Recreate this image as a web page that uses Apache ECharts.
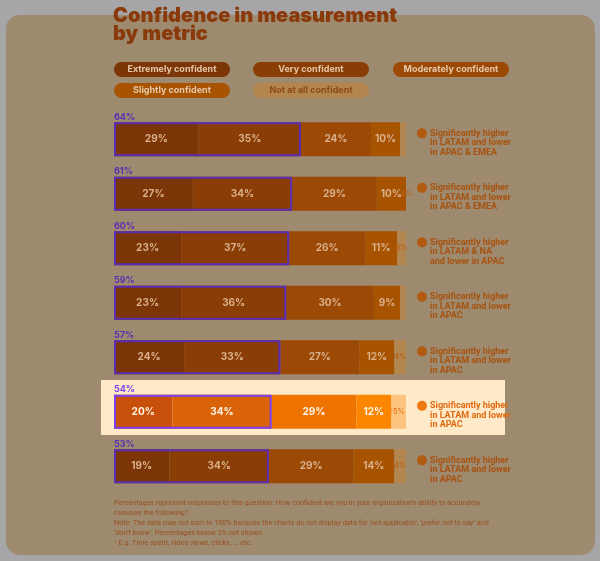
<!DOCTYPE html>
<html>
<head>
<meta charset="utf-8">
<script src="https://cdn.jsdelivr.net/npm/echarts@6/dist/echarts.min.js"></script>
<style>
html,body{margin:0;padding:0;background:#a6a6a8;}
#chart{width:600px;height:561px;}
</style>
</head>
<body>
<div id="chart"></div>
<script>
// ---- data ----
const categories = ['Sales','Brand awareness','Engagement\u00b9','Viewability','Customer lifetime value','Full-funnel media ROI','Unduplicated reach and frequency'];
const seriesNames = ['Extremely confident','Very confident','Moderately confident','Slightly confident','Not at all confident'];
const extremely  = [29,27,23,23,24,20,19];
const very       = [35,34,37,36,33,34,34];
const moderately = [24,29,26,30,27,29,29];
const slightly   = [10,10,11, 9,12,12,14];
const notAtAll   = [ 2, 3, 3, 2, 4, 5, 4];
const top2       = [64,61,60,59,57,54,53];
const notes = [
  ['Significantly higher','in LATAM and lower','in APAC & EMEA'],
  ['Significantly higher','in LATAM and lower','in APAC & EMEA'],
  ['Significantly higher','in LATAM & NA','and lower in APAC'],
  ['Significantly higher','in LATAM and lower','in APAC'],
  ['Significantly higher','in LATAM and lower','in APAC'],
  ['Significantly higher','in LATAM and lower','in APAC'],
  ['Significantly higher','in LATAM and lower','in APAC']
];
const highlightIndex = 5;
const footnote = [
  'Percentages represent responses to this question: How confident are you in your organization\u2019s ability to accurately',
  'measure the following?',
  'Note: The data may not sum to 100% because the charts do not display data for \u2018not applicable\u2019, \u2018prefer not to say\u2019 and',
  '\u2018don\u2019t know\u2019. Percentages below 3% not shown.',
  '\u00b9 E.g. Time spent, video views, clicks, ... etc.'
];

// ---- styles ----
const dimColors    = ['#7b3506','#8a3e05','#9b4904','#a75300','#b3864f'];
const brightColors = ['#c9500a','#da630a','#ee7300','#fd8600','#fcc47e'];
const values = [extremely, very, moderately, slightly, notAtAll];
const FONT = 'Inter, "Noto Sans", sans-serif';
const NFONT = 'Roboto, "Noto Sans", sans-serif';
const GL = 114, GW = 292, GT = 112, GH = 381.5;

const chart = echarts.init(document.getElementById('chart'));

const barSeries = values.map((arr, s) => ({
  name: seriesNames[s],
  type: 'bar',
  stack: 'total',
  barWidth: 34,
  barGap: '-100%',
  z: 2,
  data: arr.map((v, i) => {
    const hi = i === highlightIndex;
    const small = s === 4;
    return {
      value: v,
      itemStyle: { color: hi ? brightColors[s] : dimColors[s] },
      label: {
        show: v >= 3,
        color: small ? (hi ? '#e8801c' : '#b8641c') : (hi ? '#fff4e6' : '#d9b18c'),
        fontSize: small ? 7 : 10,
        fontWeight: 'bold'
      }
    };
  }),
  label: {
    show: true,
    position: 'inside',
    fontFamily: FONT,
    formatter: p => p.value + '%'
  }
}));

const outlineSeries = {
  name: 'top2',
  type: 'bar',
  barWidth: 34,
  barGap: '-100%',
  z: 5,
  data: top2.map((v, i) => {
    const hi = i === highlightIndex;
    return {
      value: v,
      itemStyle: { color: 'rgba(0,0,0,0)', borderColor: hi ? '#7b3ff0' : '#5a2db4', borderWidth: 2 },
      label: { color: hi ? '#7b3ff0' : '#5a2db4' }
    };
  }),
  label: {
    show: true,
    position: [0, -5],
    align: 'left',
    verticalAlign: 'middle',
    fontFamily: FONT,
    fontSize: 9,
    fontWeight: 'bold',
    formatter: p => p.value + '%'
  },
  emphasis: { disabled: true }
};

const pillPos = [[114,62],[253,62],[393,62],[114,83],[253,83]];
const pills = seriesNames.map((n, s) => ({
  type: 'group',
  x: pillPos[s][0], y: pillPos[s][1],
  children: [
    { type: 'rect', shape: { x: 0, y: 0, width: 116, height: 15, r: 7.5 }, style: { fill: dimColors[s] } },
    { type: 'text', x: 58, y: 7.5, style: { text: n, fill: s === 4 ? '#8c4a14' : '#e6c8aa', font: 'bold 9px ' + FONT, align: 'center', verticalAlign: 'middle' } }
  ]
}));

chart.setOption({
  backgroundColor: '#a6a6a8',
  animation: false,
  title: {
    text: 'Confidence in measurement\nby metric',
    left: 113, top: 7, padding: 0,
    textStyle: { color: '#8a3a0a', fontSize: 20, fontWeight: 900, fontFamily: FONT, lineHeight: 18 }
  },
  grid: { left: GL, top: GT, width: GW, height: GH },
  xAxis: { type: 'value', min: 0, max: 100, show: false },
  yAxis: [
    {
      type: 'category', inverse: true, data: categories,
      axisLine: { show: false }, axisTick: { show: false },
      axisLabel: {
        margin: -GW, align: 'right', verticalAlign: 'middle',
        padding: [0, 0, 44, 0],
        fontFamily: FONT, fontSize: 9, fontWeight: 'bold',
        color: (v, i) => i === highlightIndex ? '#e0620a' : '#8a3f0c'
      }
    },
    {
      type: 'category', inverse: true, position: 'right', data: categories,
      axisLine: { show: false }, axisTick: { show: false },
      axisLabel: {
        margin: 11, align: 'left', verticalAlign: 'middle',
        padding: [7, 0, 0, 0],
        formatter: (v, i) => {
          const hi = i === highlightIndex;
          const t = hi ? 'th' : 't';
          return notes[i].map((line, k) =>
            (k === 0 ? '{' + (hi ? 'ih' : 'i') + '|}' : '{p|}') + '{' + t + '|' + line + '}'
          ).join('\n');
        },
        rich: {
          i:  { width: 10, height: 10, borderRadius: 5, backgroundColor: '#b05a12' },
          ih: { width: 10, height: 10, borderRadius: 5, backgroundColor: '#ef7a12' },
          p:  { width: 10, height: 9 },
          t:  { color: '#a8520e', fontFamily: NFONT, fontSize: 9, fontWeight: 'bold', lineHeight: 9.4, padding: [0,0,0,3] },
          th: { color: '#e06a10', fontFamily: NFONT, fontSize: 9, fontWeight: 'bold', lineHeight: 9.4, padding: [0,0,0,3] }
        }
      }
    }
  ],
  graphic: [
    { type: 'rect', z: -10, shape: { x: 6, y: 15, width: 589, height: 540, r: 14 }, style: { fill: '#9d8a6f' } },
    { type: 'rect', z: -9, shape: { x: 101, y: 380, width: 404, height: 55 }, style: { fill: '#fee9c9' } },
    ...pills,
    { type: 'text', x: 114, y: 498, style: { text: footnote.join('\n'), fill: '#9a5020', font: '7.2px ' + NFONT, lineHeight: 10 } }
  ],
  series: [...barSeries, outlineSeries]
});
</script>
</body>
</html>
